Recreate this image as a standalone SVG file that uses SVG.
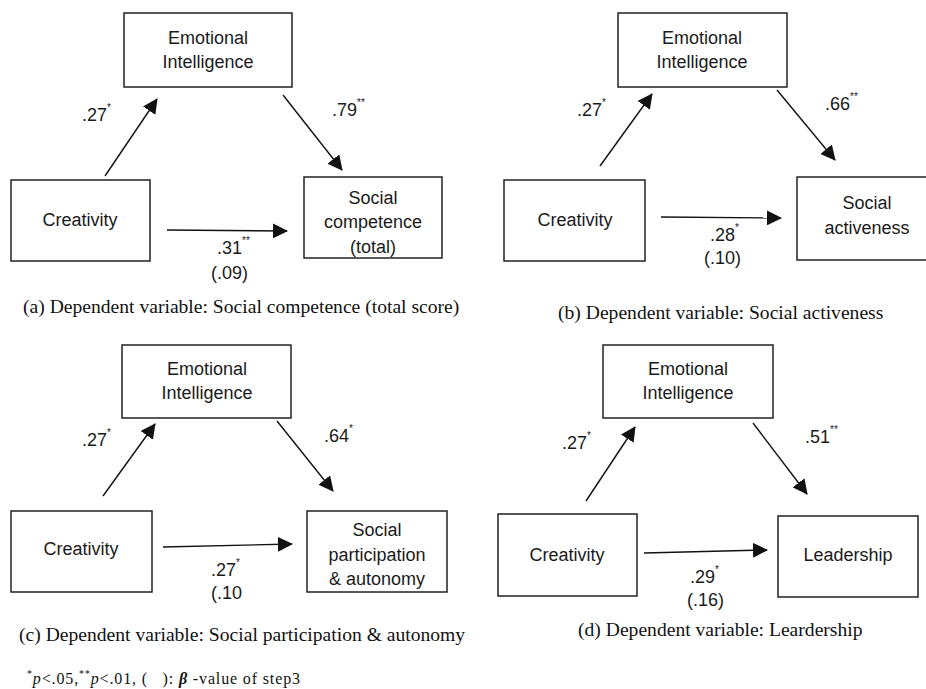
<svg xmlns="http://www.w3.org/2000/svg" width="926" height="689" viewBox="0 0 926 689">
<style>
.box{fill:#fff;stroke:#222;stroke-width:1.5}
.nt{font-family:"Liberation Sans",Arial,sans-serif;font-size:18px;fill:#1a1a1a;text-anchor:middle}
.lb{font-family:"Liberation Sans",Arial,sans-serif;font-size:18px;fill:#1a1a1a}
.sup{font-size:10px}
.cap{font-family:"Liberation Serif","Times New Roman",serif;font-size:19.6px;fill:#111}
.fn{font-family:"Liberation Serif","Times New Roman",serif;font-size:16px;fill:#111;white-space:pre}
.edge{stroke:#111;stroke-width:1.4;fill:none;marker-end:url(#ah)}
</style>
<defs>
<marker id="ah" markerUnits="userSpaceOnUse" markerWidth="15" markerHeight="15" refX="14" refY="7.5" orient="auto">
<path d="M0,0 L15,7.5 L0,15 z" fill="#111"/>
</marker>
<clipPath id="clipA"><rect x="304" y="177" width="138" height="80"/></clipPath>
<clipPath id="clipC"><rect x="307" y="511" width="140" height="80"/></clipPath>
</defs>

<!-- Panel (a) -->
<g id="a-ei"><rect class="box" x="124" y="13" width="168" height="74"/><text class="nt" x="208" y="44">Emotional</text><text class="nt" x="208" y="68">Intelligence</text></g>
<g id="a-cr"><rect class="box" x="11" y="180" width="139" height="81"/><text class="nt" x="80" y="226">Creativity</text></g>
<g id="a-sc"><rect class="box" x="304" y="177" width="138" height="81"/><g clip-path="url(#clipA)"><text class="nt" x="373" y="204">Social</text><text class="nt" x="373" y="228">competence</text><text class="nt" x="373" y="253">(total)</text></g></g>

<!-- Panel (b) -->
<g id="b-ei"><rect class="box" x="618" y="13" width="169" height="74"/><text class="nt" x="702" y="44">Emotional</text><text class="nt" x="702" y="68">Intelligence</text></g>
<g id="b-cr"><rect class="box" x="504" y="180" width="141" height="81"/><text class="nt" x="575" y="226">Creativity</text></g>
<g id="b-sa"><rect class="box" x="797" y="177" width="140" height="83"/><text class="nt" x="867" y="209">Social</text><text class="nt" x="867" y="234">activeness</text></g>

<!-- Panel (c) -->
<g id="c-ei"><rect class="box" x="122" y="345" width="169" height="73"/><text class="nt" x="207" y="375">Emotional</text><text class="nt" x="207" y="399">Intelligence</text></g>
<g id="c-cr"><rect class="box" x="11" y="511" width="141" height="81"/><text class="nt" x="81" y="555">Creativity</text></g>
<g id="c-sp"><rect class="box" x="307" y="511" width="140" height="81"/><g clip-path="url(#clipC)"><text class="nt" x="377" y="536">Social</text><text class="nt" x="377" y="561">participation</text><text class="nt" x="377" y="585">&amp; autonomy</text></g></g>

<!-- Panel (d) -->
<g id="d-ei"><rect class="box" x="603" y="345" width="170" height="73"/><text class="nt" x="688" y="375">Emotional</text><text class="nt" x="688" y="399">Intelligence</text></g>
<g id="d-cr"><rect class="box" x="498" y="514" width="139" height="82"/><text class="nt" x="567" y="561">Creativity</text></g>
<g id="d-ld"><rect class="box" x="778" y="516" width="140" height="81"/><text class="nt" x="848" y="561">Leadership</text></g>

<g id="connectors">
<path class="edge" d="M105,176 L157,99"/>
<path class="edge" d="M283,95 L342,170"/>
<path class="edge" d="M167,230 L287,231"/>
<path class="edge" d="M600,166 L652,94"/>
<path class="edge" d="M777,90 L835,160"/>
<path class="edge" d="M661,217 L781,218"/>
<path class="edge" d="M103,496 L155,424"/>
<path class="edge" d="M277,421 L333,491"/>
<path class="edge" d="M163,547 L292,544"/>
<path class="edge" d="M586,501 L635,427"/>
<path class="edge" d="M753,423 L807,494"/>
<path class="edge" d="M644,553 L767,550"/>
</g>

<g id="labels">
<text class="lb" x="82" y="121">.27<tspan class="sup" dy="-10">*</tspan></text>
<text class="lb" x="332" y="116">.79<tspan class="sup" dy="-10">**</tspan></text>
<text class="lb" x="217" y="254">.31<tspan class="sup" dy="-10">**</tspan></text>
<text class="lb" x="211" y="279">(.09)</text>
<text class="lb" x="577" y="116">.27<tspan class="sup" dy="-10">*</tspan></text>
<text class="lb" x="825" y="110">.66<tspan class="sup" dy="-10">**</tspan></text>
<text class="lb" x="710" y="241">.28<tspan class="sup" dy="-10">*</tspan></text>
<text class="lb" x="704" y="264">(.10)</text>
<text class="lb" x="82" y="446">.27<tspan class="sup" dy="-10">*</tspan></text>
<text class="lb" x="324" y="442">.64<tspan class="sup" dy="-10">*</tspan></text>
<text class="lb" x="211" y="576">.27<tspan class="sup" dy="-10">*</tspan></text>
<text class="lb" x="211" y="599">(.10</text>
<text class="lb" x="562" y="449">.27<tspan class="sup" dy="-10">*</tspan></text>
<text class="lb" x="805" y="443">.51<tspan class="sup" dy="-10">**</tspan></text>
<text class="lb" x="690" y="583">.29<tspan class="sup" dy="-10">*</tspan></text>
<text class="lb" x="687" y="606">(.16)</text>
</g>

<g id="captions">
<text class="cap" x="23" y="313">(a) Dependent variable: Social competence (total score)</text>
<text class="cap" x="558" y="319">(b) Dependent variable: Social activeness</text>
<text class="cap" x="19" y="641">(c) Dependent variable: Social participation &amp; autonomy</text>
<text class="cap" x="578" y="636">(d) Dependent variable: Leardership</text>
<text class="fn" x="27" y="684" textLength="273" lengthAdjust="spacing"><tspan font-size="10" dy="-7">*</tspan><tspan dy="7" font-style="italic">p</tspan>&lt;.05,<tspan font-size="10" dy="-7">**</tspan><tspan dy="7" font-style="italic">p</tspan>&lt;.01, (   ): <tspan font-style="italic" font-weight="bold">β</tspan> -value of step3</text>
</g>
</svg>
